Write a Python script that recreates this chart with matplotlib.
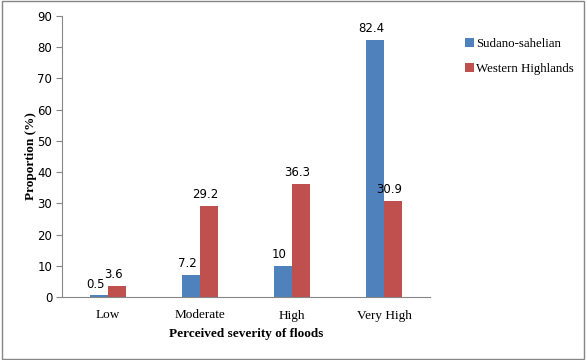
import numpy as np
import matplotlib.pyplot as plt
from matplotlib.patches import Rectangle

categories = ['Low', 'Moderate', 'High', 'Very High']
sudano = [0.5, 7.2, 10, 82.4]
western = [3.6, 29.2, 36.3, 30.9]
sudano_labels = ['0.5', '7.2', '10', '82.4']
western_labels = ['3.6', '29.2', '36.3', '30.9']
yticks = [0, 10, 20, 30, 40, 50, 60, 70, 80, 90]

blue = '#4F81BD'
red = '#C0504D'
grey = '#868686'
serif = 'Liberation Serif'

fig = plt.figure(figsize=(5.86, 3.6), dpi=100)
ax = fig.add_axes([62/586, 63/360, 368/586, 281/360])

x = np.arange(len(categories))
w = 0.2
b1 = ax.bar(x - w/2, sudano, w, color=blue, label='Sudano-sahelian')
b2 = ax.bar(x + w/2, western, w, color=red, label='Western Highlands')

for rect, lab in zip(b1, sudano_labels):
    ax.text(rect.get_x() + rect.get_width()/2 - 0.04, rect.get_height() + 1.5, lab,
            ha='center', va='bottom', fontsize=8.5, family='DejaVu Sans')
for rect, lab in zip(b2, western_labels):
    ax.text(rect.get_x() + rect.get_width()/2 - 0.04, rect.get_height() + 1.5, lab,
            ha='center', va='bottom', fontsize=8.5, family='DejaVu Sans')

ax.set_xlim(-0.5, 3.5)
ax.set_ylim(0, 90)
ax.set_yticks(yticks)
ax.set_yticklabels([str(t) for t in yticks], family='DejaVu Sans', fontsize=8.5)
ax.set_xticks(x)
ax.set_xticklabels(categories, family=serif, fontsize=9.5)
ax.tick_params(axis='x', length=0, pad=9)
ax.tick_params(axis='y', length=4, color=grey, pad=3)

for s in ['top', 'right']:
    ax.spines[s].set_visible(False)
for s in ['left', 'bottom']:
    ax.spines[s].set_color(grey)

ax.set_xlabel('Perceived severity of floods', family=serif, fontweight='bold', fontsize=9.5, labelpad=5)
ax.set_ylabel('Proportion (%)', family=serif, fontweight='bold', fontsize=9.5, labelpad=0)

leg = fig.legend(loc='upper left', bbox_to_anchor=(453/586, 1 - 26/360), frameon=False,
                 prop={'family': serif, 'size': 9.3}, handlelength=0.7, handleheight=0.7,
                 handletextpad=0.2, labelspacing=1.05)

fig.patches.append(Rectangle((0.003, 0.004), 0.993, 0.992, transform=fig.transFigure,
                             fill=False, edgecolor=grey, linewidth=1))

fig.savefig('out.png', dpi=100)
